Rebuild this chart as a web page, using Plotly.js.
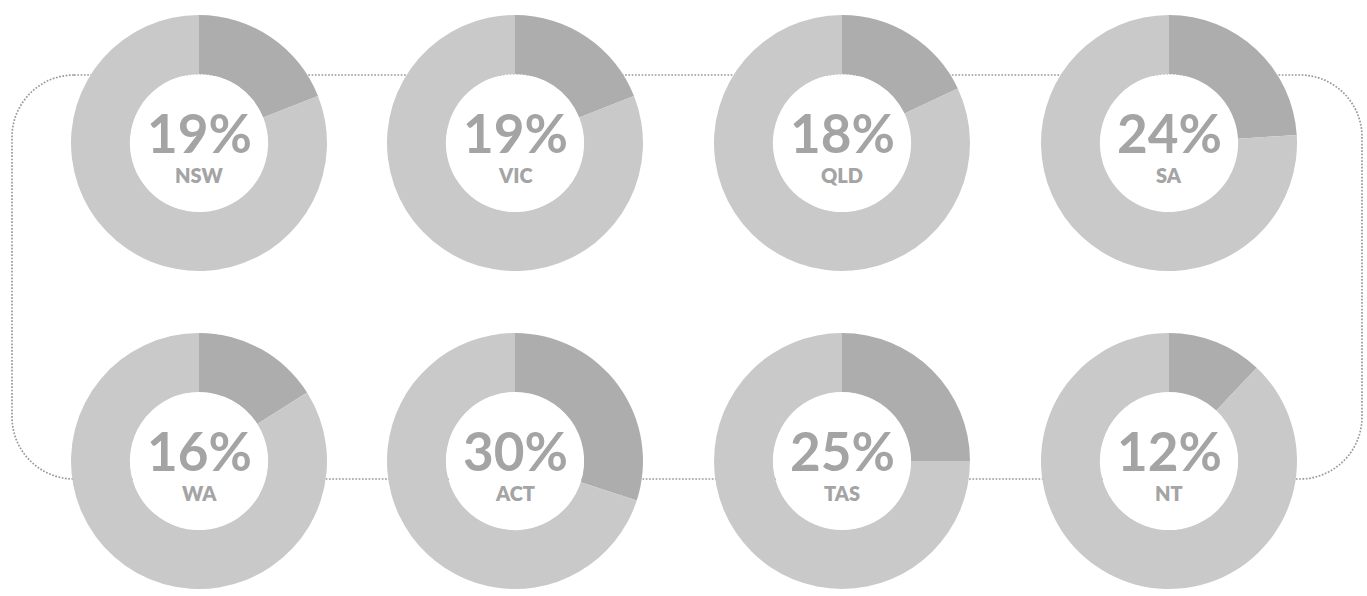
<!DOCTYPE html>
<html>
<head>
<meta charset="utf-8">
<script src="https://cdn.plot.ly/plotly-3.0.1.min.js"></script>
<style>html,body{margin:0;padding:0;background:#fff;}#chart{width:1367px;height:596px;}</style>
</head>
<body>
<div id="chart"></div>
<script>
// Data
var states = ["NSW", "VIC", "QLD", "SA", "WA", "ACT", "TAS", "NT"];
var shares = [19, 19, 18, 24, 16, 30, 25, 12];

// Layout geometry (pixels)
var W = 1367, H = 596;
var colX = [199, 515, 842, 1169];
var rowY = [143, 461];
var R = 128;
var HOLE = 0.54;

var darkColor = "#adadad";
var lightColor = "#c9c9c9";
var textColor = "#a4a4a4";

var traces = [];
var annotations = [];
var shapes = [];
states.forEach(function (st, i) {
  var cx = colX[i % 4], cy = rowY[Math.floor(i / 4)];
  traces.push({
    type: "pie",
    values: [shares[i], 100 - shares[i]],
    labels: [st + " share", st + " rest"],
    sort: false,
    direction: "clockwise",
    rotation: 0,
    hole: HOLE,
    textinfo: "none",
    hoverinfo: "none",
    marker: { colors: [darkColor, lightColor], line: { width: 0 } },
    domain: {
      x: [(cx - R) / W, (cx + R) / W],
      y: [1 - (cy + R) / H, 1 - (cy - R) / H]
    },
    showlegend: false
  });
  // white fill of the donut hole (hides the frame behind it)
  var rh = R * HOLE - 0.5;
  shapes.push({
    type: "circle", xref: "paper", yref: "paper", layer: "above",
    x0: (cx - rh) / W, x1: (cx + rh) / W,
    y0: 1 - (cy + rh) / H, y1: 1 - (cy - rh) / H,
    fillcolor: "#ffffff", line: { width: 0 }
  });
  annotations.push({
    xref: "paper", yref: "paper",
    x: cx / W, y: 1 - (cy - 11) / H,
    xanchor: "center", yanchor: "middle",
    text: shares[i] + "%",
    showarrow: false,
    font: { family: "Lato, 'Open Sans', sans-serif", size: 53, color: textColor, weight: 700 }
  });
  annotations.push({
    xref: "paper", yref: "paper",
    x: cx / W, y: 1 - (cy + 32) / H,
    xanchor: "center", yanchor: "middle",
    text: st,
    showarrow: false,
    font: { family: "Lato, 'Open Sans', sans-serif", size: 20, color: textColor, weight: 800 }
  });
});

// dotted rounded frame (decoration), in pixel -> paper
function px(x) { return (x / W).toFixed(5); }
function py(y) { return (1 - y / H).toFixed(5); }
var L = 12, T = 75, Rt = 1362, B = 479, r = 62, k = 0.55;
var path = "M" + px(L + r) + "," + py(T) +
  " L" + px(Rt - r) + "," + py(T) +
  " C" + px(Rt - r + r * k) + "," + py(T) + " " + px(Rt) + "," + py(T + r - r * k) + " " + px(Rt) + "," + py(T + r) +
  " L" + px(Rt) + "," + py(B - r) +
  " C" + px(Rt) + "," + py(B - r + r * k) + " " + px(Rt - r + r * k) + "," + py(B) + " " + px(Rt - r) + "," + py(B) +
  " L" + px(L + r) + "," + py(B) +
  " C" + px(L + r - r * k) + "," + py(B) + " " + px(L) + "," + py(B - r + r * k) + " " + px(L) + "," + py(B - r) +
  " L" + px(L) + "," + py(T + r) +
  " C" + px(L) + "," + py(T + r - r * k) + " " + px(L + r - r * k) + "," + py(T) + " " + px(L + r) + "," + py(T) + " Z";

shapes.unshift({
  type: "path", xref: "paper", yref: "paper", path: path, layer: "below",
  line: { color: "#999999", width: 1.7, dash: "1.7px,1.6px" }
});

var layout = {
  width: W, height: H,
  margin: { l: 0, r: 0, t: 0, b: 0, pad: 0 },
  paper_bgcolor: "#ffffff",
  plot_bgcolor: "#ffffff",
  showlegend: false,
  shapes: shapes,
  annotations: annotations
};

Plotly.newPlot("chart", traces, layout, { displayModeBar: false, staticPlot: true });
</script>
</body>
</html>
